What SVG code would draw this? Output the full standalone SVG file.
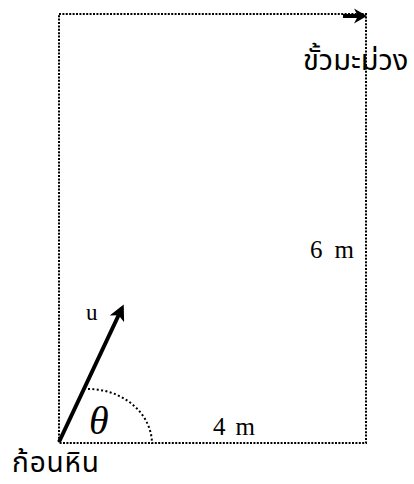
<svg xmlns="http://www.w3.org/2000/svg" width="414" height="484" viewBox="0 0 414 484">
<style>
.dot{fill:none;stroke:#000;stroke-width:2;stroke-dasharray:2 1.4}
.arc{fill:none;stroke:#000;stroke-width:2;stroke-dasharray:2 2.4}
.ser{font-family:"Liberation Serif","Times New Roman",serif;fill:#000}
.thai{font-family:"Noto Sans Thai","Tahoma","DejaVu Sans",sans-serif;fill:#000}
</style>
<defs>
<marker id="ah" markerWidth="4" markerHeight="4" refX="3" refY="2" orient="auto" markerUnits="strokeWidth">
<path d="M0,0 L4,2 L0,4 L1,2 Z" fill="#000"/>
</marker>
</defs>
<g id="frame">
<path class="dot" d="M59,14 H366 V443 H59 Z"/>
</g>
<g id="connectors">
<line x1="59" y1="442" x2="122" y2="308" stroke="#000" stroke-width="4" marker-end="url(#ah)"/>
<path class="arc" d="M88,389 A64,55 0 0 1 152,444"/>
<line x1="343" y1="16" x2="359" y2="16" stroke="#000" stroke-width="4"/>
<path d="M367,16 L354,8.5 L358,16 L354,23.5 Z" fill="#000"/>
</g>
<g id="labels">
<text class="ser" x="86" y="320" font-size="23">u</text>
<text class="ser" x="354" y="258" font-size="25" text-anchor="end" textLength="44" lengthAdjust="spacing">6 m</text>
<text class="ser" x="213" y="435" font-size="25" textLength="42" lengthAdjust="spacing">4 m</text>
<text class="ser" x="89" y="434" font-size="40" font-style="italic">θ</text>
</g>
<g id="node-mango">
<text class="thai" x="303" y="70" font-size="29">ขั้วมะม่วง</text>
</g>
<g id="node-stone">
<text class="thai" x="12" y="472" font-size="28" textLength="87" lengthAdjust="spacing">ก้อนหิน</text>
</g>
</svg>
